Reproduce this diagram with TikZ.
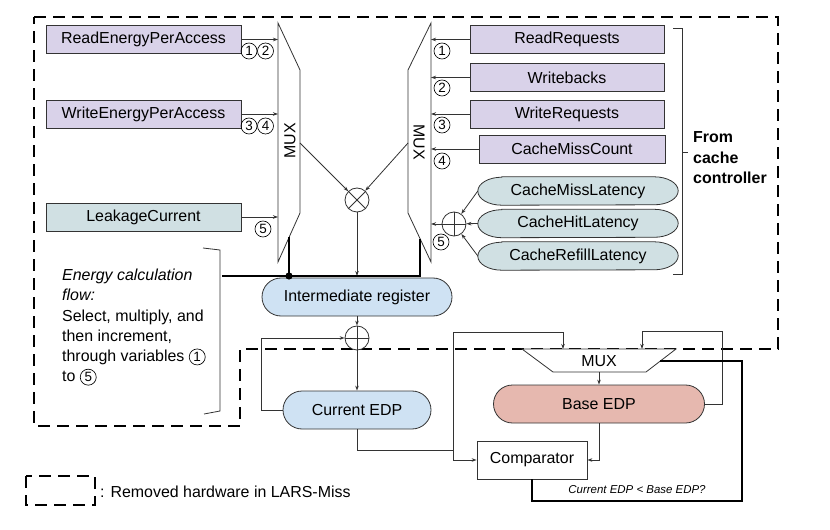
\documentclass[tikz,border=0pt]{standalone}
\usepackage{fontspec}
\setmainfont{Liberation Sans}
\usetikzlibrary{arrows.meta,calc,backgrounds}
\definecolor{lpurple}{HTML}{D9D2E9}
\definecolor{lteal}{HTML}{D0E0E3}
\definecolor{lblue}{HTML}{CFE2F3}
\definecolor{lred}{HTML}{E6B8AF}
\definecolor{edge}{HTML}{333333}
\tikzset{cnum/.style={circle,draw=black,line width=0.65bp,minimum size=16bp,inner sep=0pt,font=\fontsize{13.5}{14}\selectfont}}
\newcommand{\incirc}[1]{\tikz[baseline={([yshift=-4.7bp]c.center)}]\node[cnum] (c) {#1};}
\begin{document}
\begin{tikzpicture}[x=1bp,y=-1bp,
  font=\fontsize{16}{18}\selectfont,
  box/.style={draw=edge,line width=0.8bp,minimum height=28bp,inner sep=0pt},
  pbox/.style={box,fill=lpurple},
  tbox/.style={box,fill=lteal},
  pill/.style={draw=edge,line width=0.8bp,minimum height=38bp,rounded corners=19bp,inner sep=0pt},
  epill/.style={minimum height=28bp,minimum width=200bp,inner sep=0pt},
  eshape/.style={draw=edge,line width=0.8bp,fill=lteal},
  wire/.style={draw=edge,line width=0.8bp},
  arr/.style={wire,-{Stealth[length=5bp,width=3.5bp]}},
  buswire/.style={draw=black,line width=2.2bp},
  ctrlwire/.style={draw=black,line width=1.6bp},
  removed/.style={draw=black,line width=2.6bp,dash pattern=on 12bp off 7bp},
  op/.style={circle,draw=edge,line width=0.8bp,minimum size=24bp,inner sep=0pt,fill=white},
  muxshape/.style={draw=edge,line width=0.8bp,fill=white},
]
\useasboundingbox (0,0) rectangle (830,530);

% removed-hardware region
\draw[removed] (34,17) -- (778,17) -- (778,349) -- (240,349) -- (240,426) -- (34,426) -- cycle;

% left input boxes
\node[pbox,minimum width=195bp] (rea) at (143.5,39.5) {ReadEnergyPerAccess};
\node[pbox,minimum width=195bp] (wea) at (143.5,114) {WriteEnergyPerAccess};
\node[tbox,minimum width=195bp] (lkc) at (143.5,217) {LeakageCurrent};

% left MUX
\coordinate (lm1) at (278,23);
\coordinate (lm2) at (300,70);
\coordinate (lm3) at (300,213);
\coordinate (lm4) at (278,262);
\draw[muxshape] (lm1) -- (lm2) -- (lm3) -- (lm4) -- cycle;
\node[rotate=90] (lmuxt) at (290,141) {MUX};

% right MUX
\coordinate (rm1) at (431,23);
\coordinate (rm2) at (408,70);
\coordinate (rm3) at (408,213);
\coordinate (rm4) at (431,262);
\draw[muxshape] (rm1) -- (rm2) -- (rm3) -- (rm4) -- cycle;
\node[rotate=-90] (rmuxt) at (419,142) {MUX};

% left inputs arrows
\draw[arr] (rea.east) -- (rea.east -| lm1);
\draw[arr] (wea.east) -- (wea.east -| lm1);
\draw[arr] (lkc.east) -- (lkc.east -| lm1);
\node[cnum] (l1) at (249,51) {1};
\node[cnum] (l2) at (265.5,51) {2};
\node[cnum] (l3) at (249,126) {3};
\node[cnum] (l4) at (265.5,126) {4};
\node[cnum] (l5) at (263,229) {5};

% right input boxes
\node[pbox,minimum width=194bp] (rr) at (567,39.5) {ReadRequests};
\node[pbox,minimum width=194bp] (wb) at (567,77.5) {Writebacks};
\node[pbox,minimum width=194bp] (wr) at (567,114) {WriteRequests};
\node[pbox,minimum width=186bp] (cmc) at (572,149) {CacheMissCount};
\draw[arr] (rr.west) -- (rr.west -| rm1);
\draw[arr] (wb.west) -- (wb.west -| rm1);
\draw[arr] (wr.west) -- (wr.west -| rm1);
\draw[arr] (cmc.west) -- (cmc.west -| rm1);
\node[cnum] (r1) at (442,51) {1};
\node[cnum] (r2) at (442,88) {2};
\node[cnum] (r3) at (442,125) {3};
\node[cnum] (r4) at (442,161) {4};
\node[cnum] (r5) at (441,242) {5};

% latency ellipses
\node[epill] (cml) at (578,191) {CacheMissLatency};
\node[epill] (chl) at (578,223.5) {CacheHitLatency};
\node[epill] (crl) at (578,256) {CacheRefillLatency};
\begin{scope}[on background layer]
  \foreach \n in {cml,chl,crl}{
    \draw[eshape] ($(\n.north west)+(24,0)$) -- ($(\n.north east)+(-24,0)$)
      arc[start angle=-90,end angle=90,x radius=24,y radius=14]
      -- ($(\n.south west)+(24,0)$)
      arc[start angle=90,end angle=270,x radius=24,y radius=14] -- cycle;
  }
\end{scope}
\node[op] (radd) at (454,224) {};
\draw[wire] (radd.north) -- (radd.south) (radd.west) -- (radd.east);
\draw[arr] (cml.west) -- (radd);
\draw[arr] (chl.west) -- (radd);
\draw[arr] (crl.west) -- (radd);
\draw[arr] (radd.west) -- (radd.west -| rm1);

% bracket "From cache controller"
\coordinate (bt) at (673,28);
\coordinate (bb) at (673,274);
\draw[wire] (bt) -- (682,28) -- (682,274) -- (bb);
\draw[wire] (682,152) -- (688,152);
\node[anchor=west,align=left,font=\fontsize{16}{20.5}\selectfont\bfseries,inner sep=0pt] (fcc) at (693,158) {From\\cache\\controller};

% multiplier
\node[op] (mul) at (357,200) {};
\draw[wire] (mul.north west) -- (mul.south east) (mul.north east) -- (mul.south west);
\coordinate (lmo) at (300,143);
\coordinate (rmo) at (408,143);
\draw[arr] (lmo) -- (mul);
\draw[arr] (rmo) -- (mul);

% intermediate register
\node[pill,fill=lblue,minimum width=190bp] (ir) at (357,297) {Intermediate register};
\draw[arr] (mul.south) -- (357,276);

% bus from MUXes
\coordinate (bl) at (222,276);
\coordinate (dot) at (289,276);
\draw[buswire] (289,237.5) -- (dot);
\draw[buswire] (420,238.6) -- (420,276) -- (bl);
\fill (dot) circle (3.6bp);

% energy calc note and bracket
\draw[wire] (203,248) -- (220,250) -- (220,411) -- (204,414);
\node[anchor=north west,align=left,inner sep=0pt,font=\fontsize{16}{20.3}\selectfont] (note) at (62,269)
  {\textit{Energy calculation}\\\textit{flow:}\\Select, multiply, and\\then increment,\\through variables \incirc{1}\\to \incirc{5}};

% adder and current EDP
\node[op] (add) at (357,338) {};
\draw[wire] (add.north) -- (add.south) (add.west) -- (add.east);
\draw[arr] (ir.south) -- (add.north);
\node[pill,fill=lblue,minimum width=148bp] (ce) at (357,410) {Current EDP};
\draw[arr] (add.south) -- (ce.north);
\coordinate (fb) at (261,338);
\draw[arr] (ce.west) -| (fb) -- (add.west);

% base MUX
\coordinate (bm1) at (522,349);
\coordinate (bm2) at (676,349);
\coordinate (bm3) at (646,372);
\coordinate (bm4) at (553,372);
\draw[muxshape] (bm1) -- (bm2) -- (bm3) -- (bm4) -- cycle;
\node (bmuxt) at (599,361) {MUX};
\coordinate (bin1) at (563,349);
\coordinate (bin2) at (642,349);
\coordinate (bout) at (599,372);
\coordinate (bsel) at (660,361);

% base EDP and comparator
\node[pill,fill=lred,minimum width=211bp] (be) at (599,404) {Base EDP};
\node[draw=edge,line width=0.8bp,fill=white,minimum width=110bp,minimum height=38bp,inner sep=0pt] (cmp) at (532,460) {Comparator};

\coordinate (j1) at (453,450);
\coordinate (t1) at (453,332);
\coordinate (t2) at (722,331);
\coordinate (c1) at (742,501);
\draw[arr] (ce.south) |- (j1) |- (cmp.west);
\draw[arr] (j1) -- (t1) -| (bin1);
\draw[arr] (be.east) -| (t2) -| (bin2);
\draw[arr] (bout) -- (be.north);
\draw[arr] (be.south) |- (cmp.east);
\draw[ctrlwire] (cmp.south) |- (c1) |- (bsel);
\node[font=\fontsize{11.5}{12}\selectfont\itshape] (cond) at (637,490) {Current EDP < Base EDP?};

% legend
\draw[removed] (26,476) rectangle (95,505);
\node[anchor=west,inner sep=0pt,font=\fontsize{16}{18}\selectfont] (leg) at (100,492) {: Removed hardware in LARS-Miss};
\end{tikzpicture}
\end{document}
